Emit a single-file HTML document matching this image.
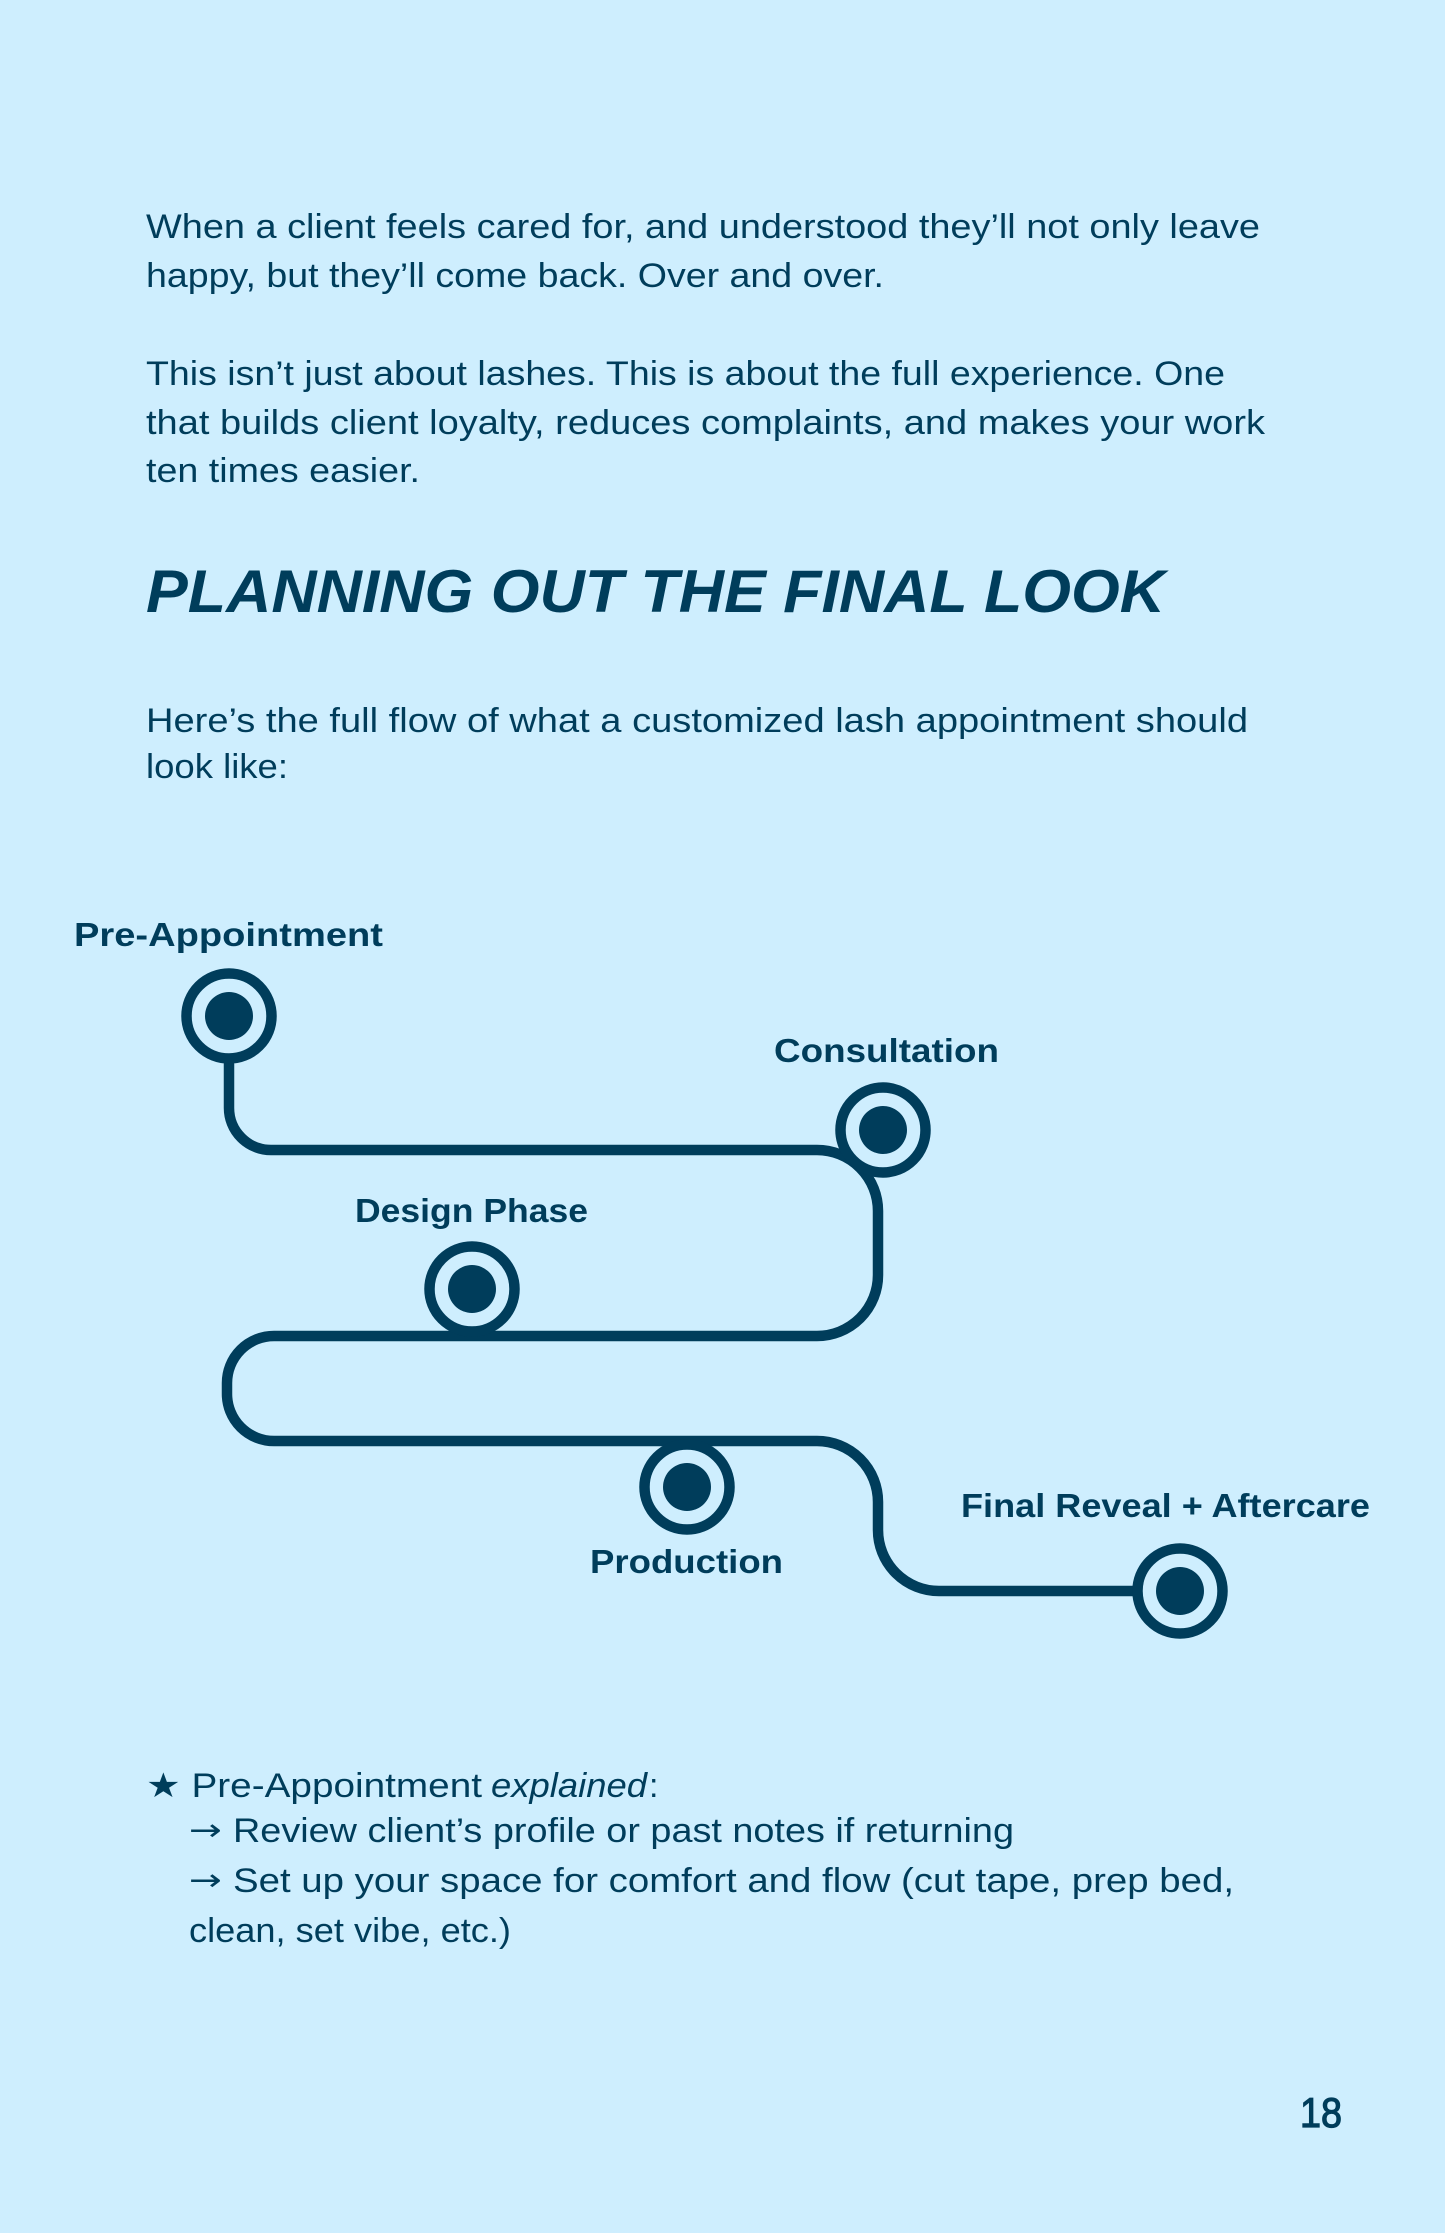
<!DOCTYPE html>
<html>
<head>
<meta charset="utf-8">
<style>
  html, body { margin:0; padding:0; background:#CEEEFE; }
  body { width:1445px; height:2233px; overflow:hidden; }
  svg { display:block; }
  .b { font-family:"Liberation Sans", sans-serif; font-size:34px; fill:#003D5B; }
  .a { font-family:"DejaVu Sans", sans-serif; font-size:30px; fill:#003D5B; }
  .l { font-family:"Liberation Sans", sans-serif; font-size:33px; font-weight:700; fill:#003D5B; }
  .h { font-family:"Liberation Sans", sans-serif; font-size:60px; font-weight:700; font-style:italic; fill:#003D5B; }
</style>
</head>
<body>
<svg width="1445" height="2233" viewBox="0 0 1445 2233" xmlns="http://www.w3.org/2000/svg">
  <rect x="0" y="0" width="1445" height="2233" fill="#CEEEFE"/>

  <!-- Intro paragraphs -->
  <text class="b" x="146" y="238" textLength="1114" lengthAdjust="spacingAndGlyphs">When a client feels cared for, and understood they’ll not only leave</text>
  <text class="b" x="146" y="287" textLength="738" lengthAdjust="spacingAndGlyphs">happy, but they’ll come back. Over and over.</text>

  <text class="b" x="146" y="385" textLength="1079" lengthAdjust="spacingAndGlyphs">This isn’t just about lashes. This is about the full experience. One</text>
  <text class="b" x="146" y="434" textLength="1119" lengthAdjust="spacingAndGlyphs">that builds client loyalty, reduces complaints, and makes your work</text>
  <text class="b" x="146" y="482" textLength="274" lengthAdjust="spacingAndGlyphs">ten times easier.</text>

  <!-- Heading -->
  <text class="h" x="146" y="612" textLength="1019" lengthAdjust="spacingAndGlyphs">PLANNING OUT THE FINAL LOOK</text>

  <text class="b" x="146" y="732" textLength="1102" lengthAdjust="spacingAndGlyphs">Here’s the full flow of what a customized lash appointment should</text>
  <text class="b" x="146" y="778" textLength="142" lengthAdjust="spacingAndGlyphs">look like:</text>

  <!-- Route path -->
  <path d="M 229 1064 V 1108 A 42 42 0 0 0 271 1150 H 817 A 61 61 0 0 1 878 1211 V 1275 A 61 61 0 0 1 817 1336 H 274 A 47 47 0 0 0 227 1383 V 1394 A 47 47 0 0 0 274 1441 H 817 A 61 61 0 0 1 878 1502 V 1530 A 61 61 0 0 0 939 1591 H 1135"
        fill="none" stroke="#003D5B" stroke-width="10.5" stroke-linecap="round" stroke-linejoin="round"/>

  <!-- Stations -->
  <g fill="#CEEEFE" stroke="#003D5B" stroke-width="10.5">
    <circle cx="229" cy="1016" r="42.5"/>
    <circle cx="883" cy="1130" r="42.5"/>
    <circle cx="472" cy="1289" r="42.5"/>
    <circle cx="687" cy="1487" r="42.5"/>
    <circle cx="1180" cy="1591" r="42.5"/>
  </g>
  <g fill="#003D5B">
    <circle cx="229" cy="1016" r="24"/>
    <circle cx="883" cy="1130" r="24"/>
    <circle cx="472" cy="1289" r="24"/>
    <circle cx="687" cy="1487" r="24"/>
    <circle cx="1180" cy="1591" r="24"/>
  </g>

  <!-- Station labels -->
  <text class="l" x="74" y="946" textLength="309" lengthAdjust="spacingAndGlyphs">Pre-Appointment</text>
  <text class="l" x="774" y="1062" textLength="225" lengthAdjust="spacingAndGlyphs">Consultation</text>
  <text class="l" x="355" y="1222" textLength="233" lengthAdjust="spacingAndGlyphs">Design Phase</text>
  <text class="l" x="590" y="1573" textLength="193" lengthAdjust="spacingAndGlyphs">Production</text>
  <text class="l" x="961" y="1517" textLength="409" lengthAdjust="spacingAndGlyphs">Final Reveal + Aftercare</text>

  <!-- Explanation -->
  <text class="b" x="146" y="1797" textLength="336" lengthAdjust="spacingAndGlyphs">★ Pre-Appointment</text>
  <text class="b" x="491" y="1797" font-style="italic" textLength="156" lengthAdjust="spacingAndGlyphs">explained</text>
  <text class="b" x="649" y="1797">:</text>

  <text class="a" x="189" y="1840" textLength="33" lengthAdjust="spacingAndGlyphs">→</text>
  <text class="b" x="233" y="1842" textLength="781" lengthAdjust="spacingAndGlyphs">Review client’s profile or past notes if returning</text>
  <text class="a" x="189" y="1890" textLength="33" lengthAdjust="spacingAndGlyphs">→</text>
  <text class="b" x="233" y="1892" textLength="1001" lengthAdjust="spacingAndGlyphs">Set up your space for comfort and flow (cut tape, prep bed,</text>
  <text class="b" x="189" y="1942" textLength="322" lengthAdjust="spacingAndGlyphs">clean, set vibe, etc.)</text>

  <!-- Page number -->
  <text x="1300" y="2127" font-family="'Liberation Sans', sans-serif" font-size="42" fill="#003D5B" stroke="#003D5B" stroke-width="1.2" textLength="42" lengthAdjust="spacingAndGlyphs">18</text>
</svg>
</body>
</html>
